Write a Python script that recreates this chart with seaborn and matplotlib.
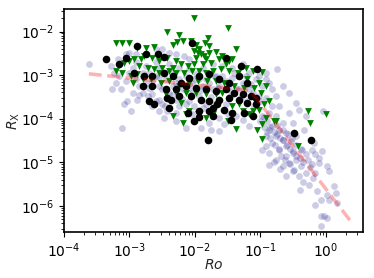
import numpy as np
import pandas as pd
import matplotlib
matplotlib.use("Agg")
import matplotlib.pyplot as plt
import seaborn as sns

# values, stored as log10(Ro), log10(R_X)
log_ro_blue = [-3.62, -0.04, -0.21, -0.16, -0.21, -0.11, -0.16, 0.02, 0.04, 0.12, 0.15, 0.02,
               -0.13, -0.26, -0.39, -0.08, -0.16, 0.04, -0.08, -0.03, 0.02, -0.07, 0.17, -0.11,
               -0.06, -0.18,
               -3.06, -3.21, -3.13, -3.03, -2.98, -3.11, -3.08, -2.88, -2.80, -2.72, -2.65, -2.55,
               -2.50, -2.55, -2.42, -2.29, -2.24, -2.14, -2.01, -1.88, -1.83, -2.04, -1.91, -2.14,
               -2.29, -2.47, -1.63, -1.55, -1.63, -1.50, -1.78, -1.76, -1.27, -1.17, -1.38, -3.23,
               -3.28, -3.18, -3.00, -2.90, -2.60, -2.50, -2.39, -2.29, -2.16, -2.09, -0.74,
               -3.00, -2.90, -2.80, -2.70, -2.60, -2.55, -2.44, -2.34, -2.24, -2.14, -2.04, -1.99,
               -1.88, -1.78, -1.73, -1.63, -1.58, -1.48, -1.38, -1.27, -1.17, -1.07, -0.97, -0.92,
               -0.87, -0.82, -0.77, -0.92, -0.82, -0.71, -0.87, -0.77, -0.66, -0.82, -0.71, -0.61,
               -0.77, -0.66, -0.54, -0.61, -0.71, -0.51, -0.61, -0.46, -0.56, -0.38, -0.49, -0.66,
               -0.77, -0.87, -0.82, -0.92, -0.87, -0.97, -0.66, -0.56, -0.46, -0.41, -0.31, -0.56,
               -0.51, -0.33, -0.46, -0.36, -0.28, -0.31, -0.41, -0.61, -0.87, -0.97, -0.92,
               -3.16, -3.06, -2.95, -2.85, -2.75, -2.65, -2.50, -2.39, -2.29, -2.19, -2.09, -1.94,
               -1.83, -1.68, -1.53, -1.43, -1.33, -1.22, -1.12, -1.02, -2.29, -2.09, -1.94, -1.68,
               -1.53, -2.75, -2.55, -2.39, -2.24, -2.09, -1.88, -1.73, -1.58, -1.43, -1.27, -1.17,
               -1.02, -0.92, -3.26, -2.65,
               -0.95, -0.90, -0.85, -0.80, -0.75, -0.70, -0.65, -0.60, -0.55, -0.50, -0.45, -0.40,
               -0.35, -0.85, -0.78, -0.72, -0.68, -0.62, -0.55, -0.50, -0.90, -0.95, -1.00, -0.75,
               -0.65, -0.58, -0.52, -0.45, -0.38, -0.30, -0.70, -0.80, -0.25, -0.20, -0.35,
               -2.95, -2.85, -2.70, -2.60, -2.45, -2.35, -2.20, -2.05, -1.90, -1.75, -1.65, -1.45,
               -1.30, -1.20, -1.10, -1.00, -2.80, -2.55, -2.35, -2.00, -1.70, -1.40, -1.15, -2.90,
               -2.60]
log_rx_blue = [-2.74, -3.83, -4.71, -4.82, -5.05, -5.02, -5.25, -5.09, -5.21, -5.55, -5.71, -5.74,
               -5.67, -5.51, -5.63, -5.86, -5.97, -5.86, -6.24, -6.23, -6.28, -6.47, -5.94, -4.90,
               -4.75, -4.56,
               -2.52, -3.18, -3.33, -3.60, -3.83, -4.21, -3.67, -3.56, -3.41, -3.48, -3.44, -3.56,
               -3.67, -3.83, -3.83, -3.87, -3.71, -3.67, -3.71, -3.75, -3.67, -3.90, -4.21, -4.21,
               -4.06, -3.98, -3.98, -4.13, -4.29, -3.90, -4.10, -4.25, -4.02, -4.17, -3.94, -2.95,
               -2.79, -2.64, -2.49, -2.52, -2.41, -2.41, -2.49, -2.52, -2.56, -2.64, -2.85,
               -2.95, -3.10, -2.95, -2.95, -3.02, -3.25, -3.10, -3.25, -3.10, -3.02, -3.18, -2.98,
               -3.25, -3.18, -3.33, -3.25, -3.02, -3.33, -3.29, -3.18, -3.33, -3.10, -3.25, -3.10,
               -3.18, -3.33, -3.48, -3.52, -3.71, -3.71, -3.87, -3.94, -4.10, -4.17, -4.25, -4.33,
               -4.40, -4.48, -4.52, -4.63, -4.71, -4.79, -4.86, -4.94, -5.02, -5.09, -5.17, -5.09,
               -4.94, -4.79, -4.56, -4.40, -4.25, -3.94, -3.25, -3.41, -3.64, -3.79, -3.94, -3.87,
               -4.10, -4.25, -4.40, -4.71, -4.94, -5.25, -5.32, -5.32, -5.06, -4.71, -4.63,
               -3.02, -3.14, -2.83, -3.25, -3.18, -3.14, -3.33, -3.41, -3.18, -3.33, -3.29, -3.10,
               -3.10, -3.02, -3.14, -3.06, -3.33, -3.02, -3.41, -3.48, -3.56, -3.60, -3.48, -3.64,
               -3.67, -2.79, -2.83, -2.75, -2.83, -2.87, -2.83, -2.75, -2.79, -2.83, -2.75, -2.95,
               -3.02, -2.95, -3.33, -3.71,
               -3.95, -4.05, -4.20, -4.30, -4.35, -4.45, -4.50, -4.60, -4.70, -4.75, -4.85, -4.90,
               -5.00, -4.45, -4.60, -4.70, -4.85, -4.95, -5.05, -5.20, -4.30, -4.20, -4.05, -4.15,
               -4.25, -4.35, -4.45, -4.60, -4.70, -4.80, -5.15, -5.00, -5.10, -5.35, -5.45,
               -3.40, -3.45, -3.30, -3.60, -3.70, -3.45, -3.55, -3.40, -3.35, -3.50, -3.30, -3.45,
               -3.50, -3.60, -3.70, -3.60, -3.05, -3.05, -2.95, -3.10, -3.05, -2.95, -3.20, -2.70,
               -2.70]

log_ro_green = [-2.43, -2.01, -1.50, -2.24, -1.80, 0.00, -0.25,
                -3.21, -3.11, -3.00, -2.88, -2.74, -2.62, -2.34, -2.27, -2.19, -2.06, -1.98, -1.84,
                -1.78, -2.01, -1.96, -1.91, -1.94, -1.86, -1.99, -1.78, -1.68, -1.58, -1.48, -1.43,
                -1.38, -1.63, -1.53, -1.76, -1.83, -1.88, -2.01, -2.11, -2.22, -2.29, -2.42, -2.55,
                -2.65, -2.78, -2.83, -2.93, -3.00, -3.08, -3.21, -2.85, -2.72, -2.62, -2.50, -2.39,
                -2.29, -2.16, -2.04, -1.94, -1.83, -1.73, -1.60, -1.48, -1.35, -1.22, -1.12, -0.97,
                -1.20, -1.02, -0.92, -0.99, -0.87, -0.94, -1.02, -1.12, -1.27, -1.17, -0.79, -0.92,
                -0.97, -1.05, -1.38, -1.50, -1.73, -1.83, -1.96, -2.09, -2.22, -2.14, -2.19, -2.34,
                -2.44, -2.29, -2.14, -1.99, -1.83, -1.68, -1.55, -1.68, -1.81, -1.96, -2.09, -2.24,
                -2.39, -2.52, -2.67, -2.80, -2.95, -2.98, -3.11, -2.88, -2.55, -2.34, -1.58, -1.40,
                -1.25, -1.10, -0.43, -0.28, -0.97, -0.77, -1.43, -1.33]
log_rx_green = [-2.02, -1.69, -1.91, -2.07, -2.16, -3.90, -4.10,
                -2.26, -2.27, -2.26, -2.37, -2.37, -2.35, -2.32, -2.24, -2.22, -2.22, -2.32, -2.26,
                -2.33, -2.45, -2.49, -2.52, -2.41, -2.56, -2.60, -2.49, -2.47, -2.56, -2.68, -2.64,
                -2.41, -2.64, -2.75, -2.72, -2.64, -2.75, -2.75, -2.79, -2.75, -2.68, -2.60, -2.68,
                -2.60, -2.56, -2.64, -2.64, -2.68, -2.72, -2.91, -2.79, -2.83, -2.87, -2.83, -2.91,
                -2.95, -2.95, -2.91, -2.91, -2.95, -2.91, -2.87, -2.91, -2.95, -2.83, -2.91, -2.93,
                -3.10, -3.18, -3.25, -3.41, -3.60, -3.67, -3.79, -3.83, -3.83, -3.90, -4.06, -3.98,
                -4.13, -4.25, -4.23, -4.06, -3.90, -3.98, -3.90, -3.83, -3.64, -3.90, -4.10, -3.94,
                -3.44, -3.41, -3.41, -3.41, -3.44, -3.44, -3.18, -3.14, -3.14, -3.14, -3.18, -3.25,
                -3.14, -3.18, -3.10, -3.10, -3.18, -3.02, -2.95, -2.98, -2.95, -2.83, -3.41, -3.25,
                -3.29, -3.29, -4.63, -3.83, -4.46, -4.06, -3.71, -3.67]

log_ro_black = [-3.36, -0.23,
                -2.88, -2.74, -2.57, -2.47, -2.04, -1.53, -1.30, -1.05, -3.16, -3.06, -2.93, -2.78,
                -2.65, -2.47, -2.34, -2.22, -2.09, -1.94, -1.78, -1.63, -1.48, -1.33, -1.20, -2.80,
                -2.65, -2.44, -2.29, -2.14, -1.99, -1.83, -1.68, -1.53, -1.40, -1.27, -1.15, -1.07,
                -2.70, -2.62, -2.42, -2.37, -2.24, -2.06, -1.91, -1.78, -1.63, -1.48, -1.33, -1.20,
                -1.07, -2.39, -2.11, -1.94, -1.78, -1.73, -1.66, -1.55, -1.43, -1.25, -1.12, -1.45,
                -2.01, -1.94, -1.73, -1.80, -0.49]
log_rx_black = [-2.64, -4.48,
                -2.33, -2.52, -2.52, -2.58, -2.27, -2.60, -2.79, -2.86, -2.75, -2.60, -2.95, -3.02,
                -3.02, -2.95, -3.02, -3.18, -3.06, -3.02, -2.98, -3.10, -3.18, -3.02, -3.18, -3.25,
                -3.25, -3.33, -3.33, -3.25, -3.29, -3.33, -3.37, -3.33, -3.41, -3.44, -3.48, -3.52,
                -3.60, -3.67, -3.52, -3.56, -3.48, -3.48, -3.56, -3.60, -3.56, -3.52, -3.56, -3.64,
                -3.67, -3.75, -3.87, -3.83, -3.83, -3.75, -3.67, -3.79, -3.87, -3.88, -3.94, -4.02,
                -4.06, -3.96, -3.94, -4.48, -4.33]

# broken power-law relation (dashed)
ro_fit = [2.4e-4, 0.07, 2.4]
rx_fit = [1.07e-3, 4.4e-4, 4.4e-7]


def to_frame(log_ro, log_rx):
    return pd.DataFrame({"Ro": np.power(10.0, log_ro), "Rx": np.power(10.0, log_rx)})


sns.set_style("ticks")
plt.rcParams.update({
    "xtick.major.size": 3.5, "ytick.major.size": 3.5,
    "xtick.minor.size": 2, "ytick.minor.size": 2,
    "axes.edgecolor": "black", "axes.linewidth": 1.2,
    "xtick.color": "black", "ytick.color": "black",
    "font.family": ["DejaVu Sans"],
})

fig, ax = plt.subplots(figsize=(3.74, 2.78), dpi=100)
fig.subplots_adjust(left=0.171, right=0.971, bottom=0.165, top=0.968)

sns.scatterplot(data=to_frame(log_ro_blue, log_rx_blue), x="Ro", y="Rx", ax=ax,
                color="navy", alpha=0.2, s=24, linewidth=0, marker="o")
sns.scatterplot(data=to_frame(log_ro_green, log_rx_green), x="Ro", y="Rx", ax=ax,
                color="green", s=24, linewidth=0, marker="v")
sns.scatterplot(data=to_frame(log_ro_black, log_rx_black), x="Ro", y="Rx", ax=ax,
                color="black", s=30, linewidth=0, marker="o")
sns.lineplot(x=ro_fit, y=rx_fit, ax=ax, color="red", alpha=0.3, lw=2.5,
             linestyle="--", zorder=5)

ax.set_xscale("log")
ax.set_yscale("log")
ax.set_xlim(1e-4, 3.7)
ax.set_ylim(2.5e-7, 3.3e-2)
ax.set_xlabel("$Ro$", labelpad=-2)
ax.set_ylabel(r"$R_{\rm X}$", labelpad=-1)

fig.savefig("out.png", dpi=100)
